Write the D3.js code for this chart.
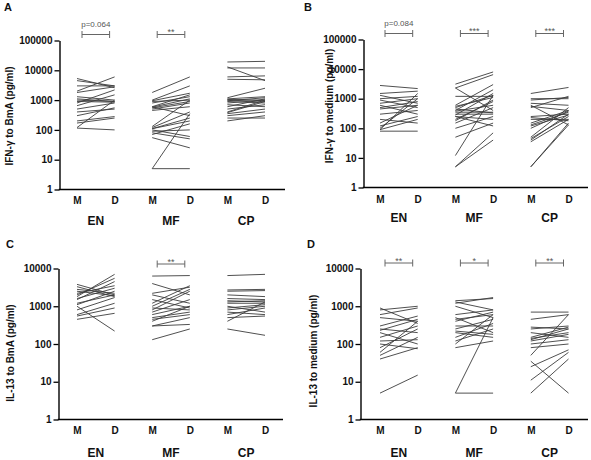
<!DOCTYPE html>
<html><head><meta charset="utf-8">
<script src="https://cdn.jsdelivr.net/npm/d3@7"></script>
<style>body{margin:0;background:#fff}svg{display:block;font-family:"Liberation Sans",Arial,sans-serif}</style>
</head><body><svg id="chart" width="591" height="460"></svg>
<script>
const groups = ["EN","MF","CP"];
const timepoints = ["M","D"];
const ticksIFN = [1,10,100,1000,10000,100000];
const ticksIL13 = [1,10,100,1000,10000];

// Panel A: IFN-γ to BmA
const A_EN_M = [5300,4500,3000,2000,1800,1300,1100,1000,900,800,650,500,400,300,200,170,120,115];
const A_EN_D = [2600,3000,3000,6000,2800,1000,900,900,850,2200,1500,800,500,550,280,250,1000,100];
const A_MF_M = [1800,1000,950,900,800,600,580,550,500,450,600,130,120,110,110,100,90,80,70,55,5,5];
const A_MF_D = [6000,3000,1700,1000,1300,1500,1100,900,800,600,300,1000,400,250,200,60,100,50,160,25,350,5];
const A_CP_M = [19000,13000,12000,6000,5000,1200,1100,1050,1000,950,900,800,700,600,500,400,380,350,300,250,200];
const A_CP_D = [20000,4500,12000,6500,4800,2500,1300,1000,900,1200,800,1000,600,1100,700,1000,900,500,400,250,300];

// Panel B: IFN-γ to medium
const B_EN_M = [2800,1500,1300,1000,900,700,600,500,450,300,200,150,120,100,90,90,80];
const B_EN_D = [2200,1800,700,1200,500,1000,300,800,600,400,150,600,250,1000,1500,200,80];
const B_MF_M = [3100,2300,2300,1200,600,550,500,450,400,380,350,300,280,250,250,200,180,150,100,50,12,5,5];
const B_MF_D = [8000,6500,400,1200,3000,1100,1300,330,2000,600,350,300,1500,120,200,800,900,500,250,150,1300,70,40];
const B_CP_M = [1500,1000,900,700,600,550,500,250,230,200,150,130,120,100,50,45,40,35,5,5];
const B_CP_D = [2400,1000,1100,600,130,400,1200,300,180,200,400,350,280,380,500,250,300,200,150,130];

// Panel C: IL-13 to BmA
const C_EN_M = [3800,3300,2800,2500,2200,2000,1800,1600,1500,1200,1100,1000,800,600,550,450];
const C_EN_D = [2000,1800,2200,1900,3500,5500,7000,3000,4500,2000,2500,220,1700,1200,900,650];
const C_MF_M = [6300,4000,2200,2000,1500,1200,1000,900,800,700,600,500,450,400,300,300,130];
const C_MF_D = [6500,2000,3200,1200,900,3500,2800,800,2500,1500,1000,700,600,1000,500,330,250];
const C_CP_M = [6500,2700,2500,2000,1600,1400,1300,1200,1000,900,800,700,600,500,400,250];
const C_CP_D = [7000,2800,2600,1800,1500,1300,1400,1200,700,1100,1000,600,900,550,1300,170];

// Panel D: IL-13 to medium
const D_EN_M = [900,800,600,500,300,250,230,200,150,120,100,80,60,50,40,5];
const D_EN_D = [350,1000,900,400,550,200,450,100,300,130,75,250,400,150,80,15];
const D_MF_M = [1400,1300,1200,1000,600,500,450,400,300,250,220,200,150,120,100,80,5,5];
const D_MF_D = [1600,800,1700,500,800,200,600,700,300,450,180,150,350,250,600,120,500,5];
const D_CP_M = [700,450,280,250,200,150,140,130,120,100,80,50,35,25,11,5];
const D_CP_D = [700,600,250,300,150,280,200,250,180,130,100,600,5,70,60,40];

const panels = [
  {letter:"A", label:"IFN-\u03b3 to BmA (pg/ml)", ticks:ticksIFN, top:100000,
   data:{EN:[A_EN_M,A_EN_D],MF:[A_MF_M,A_MF_D],CP:[A_CP_M,A_CP_D]},
   sig:[{g:"EN",t:"p=0.064"},{g:"MF",t:"**"}],
   yRange:[189.5,40.5], axisX:59.5, xEnd:285, xRange:[77,265],
   letterPos:[4,11], labelX:12.5, labelY:116, brY:34.5, tickY:7.5, groupY:225},
  {letter:"B", label:"IFN-\u03b3 to medium (pg/ml)", ticks:ticksIFN, top:100000,
   data:{EN:[B_EN_M,B_EN_D],MF:[B_MF_M,B_MF_D],CP:[B_CP_M,B_CP_D]},
   sig:[{g:"EN",t:"p=0.084"},{g:"MF",t:"***"},{g:"CP",t:"***"}],
   yRange:[187.5,39.5], axisX:363.5, xEnd:588, xRange:[380,568.5],
   letterPos:[304,11], labelX:332.5, labelY:106, brY:33.5, tickY:8, groupY:222},
  {letter:"C", label:"IL-13 to BmA (pg/ml)", ticks:ticksIL13, top:10000,
   data:{EN:[C_EN_M,C_EN_D],MF:[C_MF_M,C_MF_D],CP:[C_CP_M,C_CP_D]},
   sig:[{g:"MF",t:"**"}],
   yRange:[419.5,268.5], axisX:58.5, xEnd:283, xRange:[77,265],
   letterPos:[6,248], labelX:13.5, labelY:353, brY:264, tickY:7, groupY:457},
  {letter:"D", label:"IL-13 to medium (pg/ml)", ticks:ticksIL13, top:10000,
   data:{EN:[D_EN_M,D_EN_D],MF:[D_MF_M,D_MF_D],CP:[D_CP_M,D_CP_D]},
   sig:[{g:"EN",t:"**"},{g:"MF",t:"*"},{g:"CP",t:"**"}],
   yRange:[419.5,268.5], axisX:360.5, xEnd:588, xRange:[380,568.5],
   letterPos:[307,248], labelX:316.5, labelY:351, brY:263, tickY:7.5, groupY:457}
];

const svg = d3.select("#chart");
const keys = groups.flatMap(g => timepoints.map(t => g + "-" + t));

panels.forEach(p => {
  const gP = svg.append("g");
  const y = d3.scaleLog().domain([1, p.top]).range(p.yRange);
  const x = d3.scalePoint().domain(keys).range(p.xRange);

  // paired lines
  groups.forEach(g => {
    const [mv, dv] = p.data[g];
    const pairs = d3.zip(mv, dv);
    gP.append("g").selectAll("line").data(pairs).join("line")
      .attr("x1", x(g + "-M")).attr("x2", x(g + "-D"))
      .attr("y1", d => y(d[0])).attr("y2", d => y(d[1]))
      .attr("stroke", "#3c3c3c").attr("stroke-width", 0.9);
  });

  // y axis
  const ya = gP.append("g").attr("transform", `translate(${p.axisX},0)`)
    .call(d3.axisLeft(y).tickValues(p.ticks).tickFormat(d3.format("d")).tickSize(5).tickSizeOuter(0).tickPadding(2));
  ya.select(".domain").attr("stroke", "#000").attr("stroke-width", 1.4);
  ya.selectAll(".tick line").attr("stroke", "#000").attr("stroke-width", 1.3);
  ya.selectAll(".tick text").attr("font-size", 10).attr("font-weight", "bold").attr("fill", "#111")
    .attr("font-family", '"Liberation Sans",Arial,sans-serif');

  // x axis line
  gP.append("line").attr("x1", p.axisX - 0.7).attr("x2", p.xEnd)
    .attr("y1", y(1)).attr("y2", y(1)).attr("stroke", "#000").attr("stroke-width", 1.4);

  const xa = gP.append("g").attr("transform", `translate(0,${y(1)})`)
    .call(d3.axisBottom(x).tickSize(0).tickPadding(p.tickY).tickFormat(d => d.split("-")[1]));
  xa.select(".domain").remove();
  xa.selectAll(".tick text").attr("font-size", 10).attr("font-weight", "bold").attr("fill", "#111")
    .attr("font-family", '"Liberation Sans",Arial,sans-serif');

  // group labels
  gP.append("g").selectAll("text").data(groups).join("text")
    .attr("x", g => (x(g + "-M") + x(g + "-D")) / 2)
    .attr("y", p.groupY)
    .attr("text-anchor", "middle").attr("font-size", 12).attr("font-weight", "bold").attr("fill", "#111")
    .text(g => g);

  // panel letter
  gP.append("text").attr("x", p.letterPos[0]).attr("y", p.letterPos[1])
    .attr("font-size", 11).attr("font-weight", "bold").attr("fill", "#111").text(p.letter);

  // y label
  gP.append("text").attr("transform", `translate(${p.labelX},${p.labelY}) rotate(-90)`)
    .attr("text-anchor", "middle").attr("font-size", 10).attr("font-weight", "bold").attr("fill", "#111")
    .text(p.label);

  // significance brackets
  p.sig.forEach(s => {
    const x1 = x(s.g + "-M") + 5, x2 = x(s.g + "-D") - 5;
    const b = gP.append("g").attr("stroke", "#666").attr("stroke-width", 1);
    b.append("line").attr("x1", x1).attr("x2", x2).attr("y1", p.brY).attr("y2", p.brY);
    b.append("line").attr("x1", x1).attr("x2", x1).attr("y1", p.brY - 3.5).attr("y2", p.brY + 3.5);
    b.append("line").attr("x1", x2).attr("x2", x2).attr("y1", p.brY - 3.5).attr("y2", p.brY + 3.5);
    const isP = s.t.startsWith("p");
    gP.append("text").attr("x", (x1 + x2) / 2)
      .attr("y", isP ? p.brY - 7.5 : p.brY + 0.5)
      .attr("text-anchor", "middle").attr("font-size", isP ? 8 : 9).attr("fill", "#555")
      .text(s.t);
  });
});
</script></body></html>
